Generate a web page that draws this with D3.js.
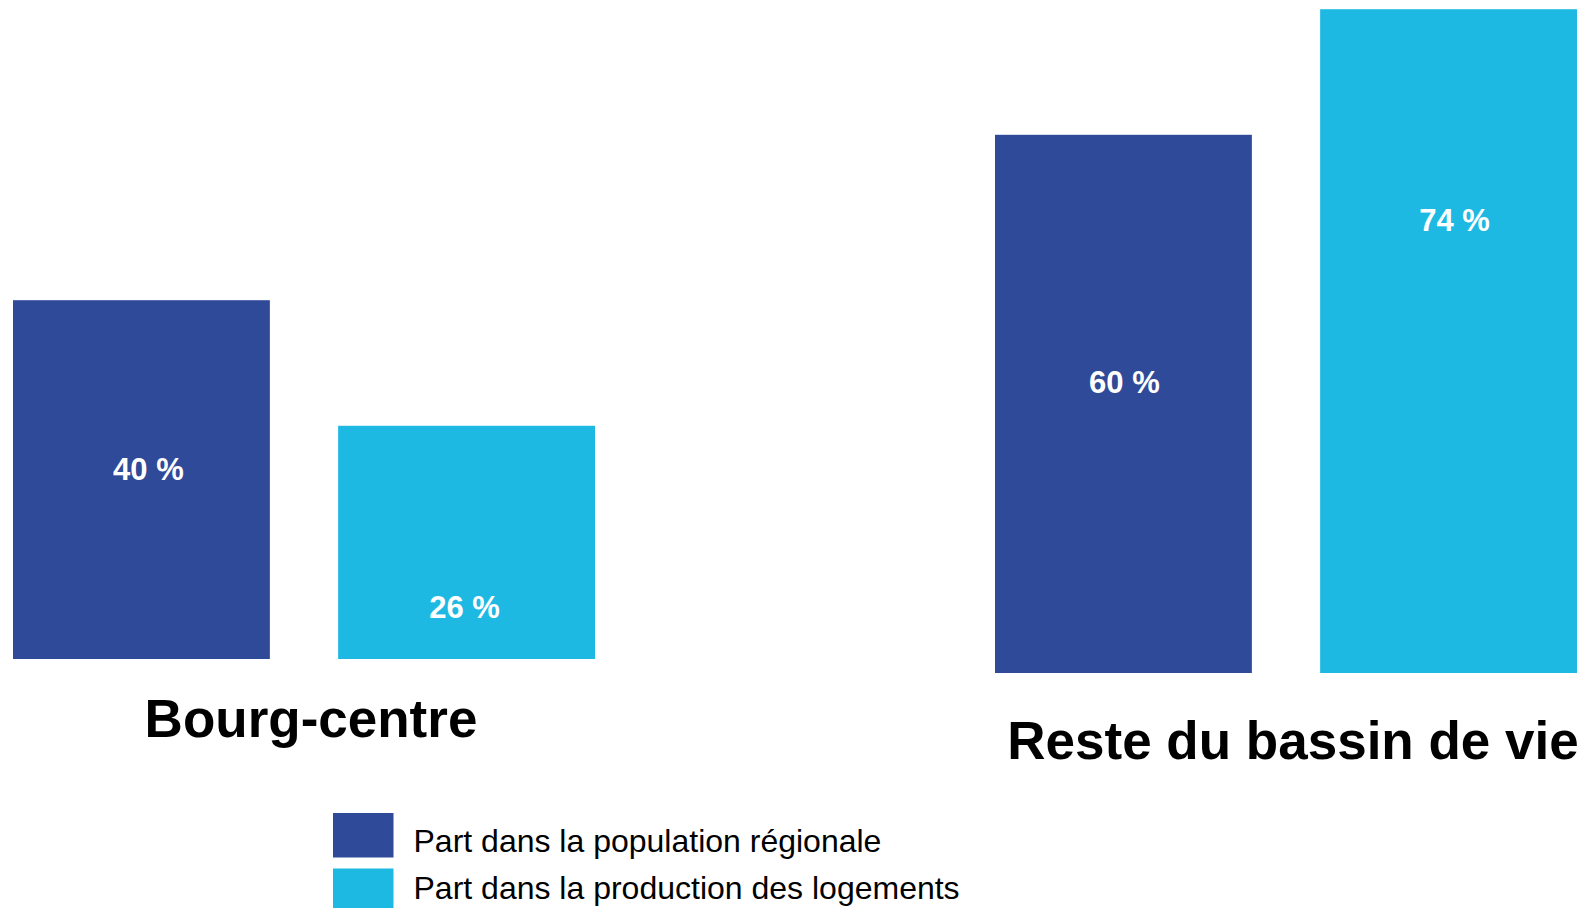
<!DOCTYPE html>
<html>
<head>
<meta charset="utf-8">
<script src="https://cdn.jsdelivr.net/npm/d3@7"></script>
<style>
  html, body { margin: 0; padding: 0; background: #fff; overflow: hidden; }
  text { font-family: "Liberation Sans", Arial, sans-serif; }
</style>
</head>
<body>
<div id="chart"></div>
<script>
// groups and series
var categories = ["Bourg-centre", "Reste du bassin de vie"];
var seriesNames = ["Part dans la population régionale", "Part dans la production des logements"];
var popValues = [40, 60];
var prodValues = [26, 74];
var seriesColors = ["#2f4a98", "#1db9e2"];

// where the value label sits inside each bar (in % units, from the bottom)
var labelAt = [[21.2, 5.8], [32.5, 50.5]];

var W = 1578, H = 908;
var svg = d3.select("#chart").append("svg")
  .attr("width", W).attr("height", H);

// each group is its own little panel (the two are not aligned in the original)
var groupX = [13, 995];
var groupBase = [659, 673];
var titleY = [737, 759];
var labelShift = [[7, -2], [1, 6]];
var groupWidth = 582;

var h = d3.scaleLinear().domain([0, 100]).range([0, 897]);
var x = d3.scaleBand().domain([0, 1]).range([0, groupWidth])
  .paddingInner(0.21).paddingOuter(0);

categories.forEach(function(cat, gi){
  var g = svg.append("g").attr("transform", "translate(" + groupX[gi] + "," + groupBase[gi] + ")");
  var vals = [popValues[gi], prodValues[gi]];

  g.selectAll("rect").data(vals).enter().append("rect")
    .attr("x", function(d, i){ return x(i); })
    .attr("y", function(d){ return -h(d); })
    .attr("width", x.bandwidth())
    .attr("height", function(d){ return h(d); })
    .style("fill", function(d, i){ return seriesColors[i]; });

  g.selectAll("text.val").data(vals).enter().append("text")
    .attr("class", "val")
    .attr("x", function(d, i){ return x(i) + x.bandwidth() / 2 + labelShift[gi][i]; })
    .attr("y", function(d, i){ return -h(labelAt[gi][i]); })
    .attr("dy", "0.36em")
    .attr("text-anchor", "middle")
    .style("fill", "#fff")
    .style("font-weight", "bold")
    .style("font-size", "31px")
    .text(function(d){ return d + " %"; });

  g.append("text")
    .attr("x", groupWidth / 2 + 7)
    .attr("y", titleY[gi] - groupBase[gi])
    .attr("text-anchor", "middle")
    .style("fill", "#000")
    .style("font-weight", "bold")
    .style("font-size", "53px")
    .text(cat);
});

// legend
var legend = svg.append("g").attr("transform", "translate(333,813)");
legend.selectAll("rect").data(seriesNames).enter().append("rect")
  .attr("y", function(d, i){ return i * 55.5; })
  .attr("width", 60.5).attr("height", 44.5)
  .style("fill", function(d, i){ return seriesColors[i]; });
legend.selectAll("text").data(seriesNames).enter().append("text")
  .attr("x", 80.5)
  .attr("y", function(d, i){ return 27 + i * 47.5; })
  .attr("dy", "0.36em")
  .style("fill", "#000")
  .style("font-size", "32px")
  .text(function(d){ return d; });
</script>
</body>
</html>
